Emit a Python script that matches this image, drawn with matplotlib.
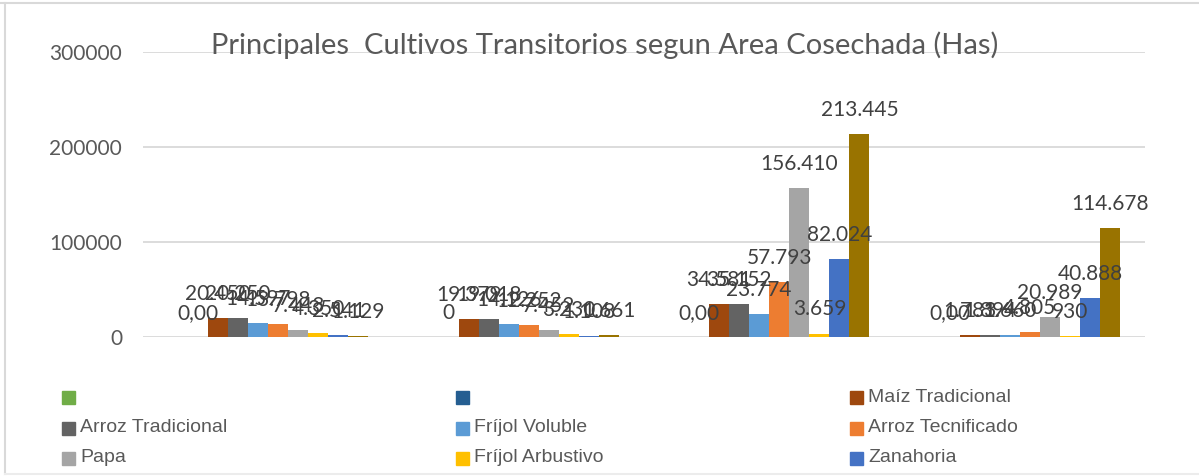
import numpy as np
import matplotlib.pyplot as plt
from matplotlib.patches import Rectangle
from matplotlib.lines import Line2D

# four groups on the x axis, no category labels shown
groups = [0, 1, 2, 3]

series_names = ['', '', 'Maíz Tradicional', 'Arroz Tradicional', 'Fríjol Voluble',
                'Arroz Tecnificado', 'Papa', 'Fríjol Arbustivo', 'Zanahoria', '']
series_colors = ['#70AD47', '#255E91', '#9E480E', '#636363', '#5B9BD5',
                 '#ED7D31', '#A5A5A5', '#FFC000', '#4472C4', '#997300']

green_vals = [np.nan, np.nan, np.nan, np.nan]
blue_dark_vals = [0, 0, 0, 0]
maiz_trad = [20450, 19379, 34581, 1783]
arroz_trad = [20250, 19018, 35152, 1894]
frijol_vol = [14597, 14126, 23774, 1660]
arroz_tec = [13798, 12252, 57793, 4805]
papa = [7443, 7452, 156410, 20989]
frijol_arb = [4350, 3230, 3659, 930]
zanahoria = [2541, 1108, 82024, 40888]
total = [1129, 1661, 213445, 114678]

zero_labels = ['0,00', '0', '0,00', '0,00']

series_vals = [green_vals, blue_dark_vals, maiz_trad, arroz_trad, frijol_vol,
               arroz_tec, papa, frijol_arb, zanahoria, total]

yticks = [0, 100000, 200000, 300000]
title = 'Principales  Cultivos Transitorios segun Area Cosechada (Has)'

W, H = 1199, 476


def fx(px):
    return px / W


def fy(py):
    return 1 - py / H


def fmt(v, i):
    if v == 0:
        return zero_labels[i]
    return f'{v:,.0f}'.replace(',', '.')


fig = plt.figure(figsize=(W / 100, H / 100), dpi=100)
ax = fig.add_axes([fx(143), fy(337), fx(1002), 285 / H])

x = np.array(groups, dtype=float)
bw = 0.08
n = len(series_vals)
for k, (vals, col) in enumerate(zip(series_vals, series_colors)):
    xs = x + (k - (n - 1) / 2) * bw
    ax.bar(xs, vals, bw, color=col, zorder=2)
    for i, v in enumerate(vals):
        if np.isnan(v):
            continue
        ax.annotate(fmt(v, i), (xs[i], v), xytext=(0, 13), textcoords='offset points',
                    ha='center', va='baseline', fontsize=15, family='Lato',
                    color='#404040', zorder=3)

ax.set_xlim(-0.5, 3.5)
ax.set_ylim(0, 300000)
ax.set_yticks(yticks)
ax.set_yticklabels([str(t) for t in yticks], family='Lato', fontsize=15, color='#595959')
ax.set_xticks([])
ax.tick_params(axis='y', length=0, pad=15)
ax.yaxis.grid(True, color='#d9d9d9', lw=1.3, zorder=0)
ax.set_axisbelow(True)
for s in ax.spines.values():
    s.set_visible(False)

fig.text(fx(605), fy(54), title, ha='center', va='baseline', fontsize=21,
         family='Lato', color='#595959')

# outer chart frame
fig.add_artist(Line2D([0, 1], [fy(3), fy(3)], color='#d9d9d9', lw=1.5))
fig.add_artist(Line2D([fx(5), fx(5)], [fy(3), fy(474)], color='#d9d9d9', lw=1.5))
fig.add_artist(Line2D([fx(5), 1], [fy(474), fy(474)], color='#ececec', lw=1.5))

# legend, 3 columns, row-major
col_x = [62, 456, 850]
row_y = [397, 428, 458]
for j in range(9):
    r, c = divmod(j, 3)
    mx, my = col_x[c], row_y[r]
    fig.add_artist(Rectangle((fx(mx), fy(my + 6.5)), fx(13), 13 / H,
                             color=series_colors[j], transform=fig.transFigure))
    fig.text(fx(mx + 18), fy(my), series_names[j], va='center', ha='left',
             fontsize=14, family='Liberation Sans', color='#595959')

fig.savefig('out.png', dpi=100)
